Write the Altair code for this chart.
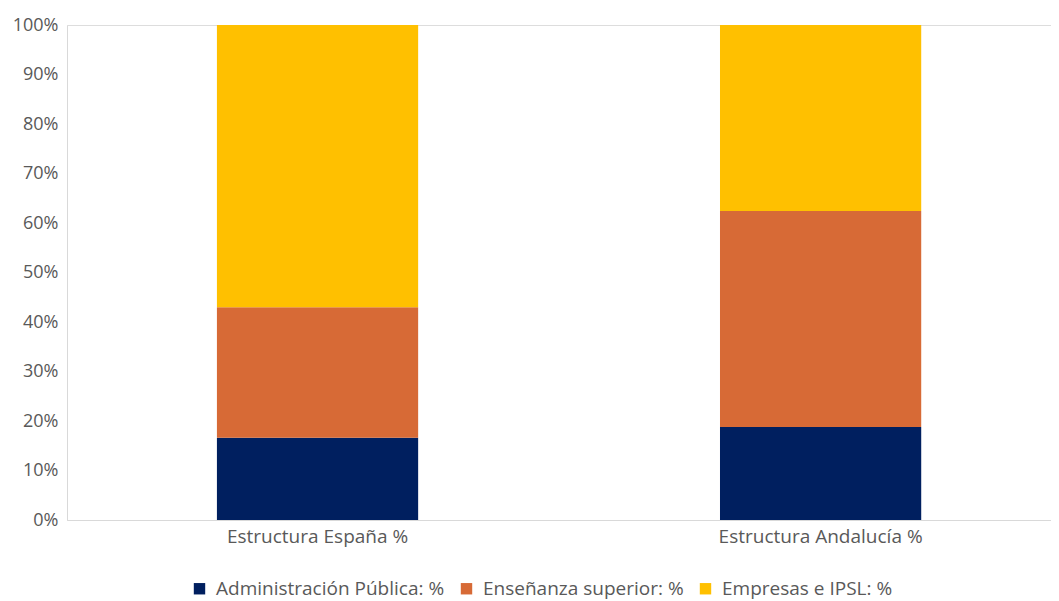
import altair as alt
import pandas as pd

categories = ["Estructura España %", "Estructura Andalucía  %"]
series = ["Administración Pública: %", "Enseñanza superior: %", "Empresas e IPSL: %"]
admin = [0.166, 0.188]
ensenanza = [0.264, 0.436]
empresas = [0.570, 0.376]
colors = ["#001F5F", "#D76A36", "#FFC000"]

rows = []
for i, c in enumerate(categories):
    for j, (s, vals) in enumerate(zip(series, [admin, ensenanza, empresas])):
        rows.append({"cat": c, "serie": s, "valor": vals[i], "orden": j})
df = pd.DataFrame(rows)

font = "Open Sans"
chart = alt.Chart(df).mark_bar().encode(
    x=alt.X("cat:N", sort=categories, title=None,
            scale=alt.Scale(paddingInner=0.6, paddingOuter=0.278, align=0.536),
            axis=alt.Axis(labelAngle=0, ticks=False, domainColor="#d9d9d9",
                          labelColor="#595959", labelFontSize=19, labelFont=font,
                          labelPadding=7, labelLimit=400)),
    y=alt.Y("sum(valor):Q", stack="zero", title=None,
            scale=alt.Scale(domain=[0, 1], nice=False),
            axis=alt.Axis(format=".0%", values=[i / 10 for i in range(11)], grid=False,
                          ticks=False, domainColor="#d9d9d9", labelColor="#595959",
                          labelFontSize=18, labelFont=font, labelPadding=9)),
    color=alt.Color("serie:N", sort=series,
                    scale=alt.Scale(domain=series, range=colors),
                    legend=alt.Legend(title=None, orient="none", legendX=123, legendY=554,
                                      direction="horizontal", symbolType="square",
                                      symbolSize=130, symbolStrokeWidth=0,
                                      labelFontSize=19, labelFont=font, labelColor="#595959",
                                      labelLimit=400, columnPadding=12, labelOffset=7)),
    order=alt.Order("orden:Q"),
).properties(
    width=984, height=495,
    autosize=alt.AutoSizeParams(type="none"),
    padding={"left": 59, "top": 17, "right": 0, "bottom": 80},
).configure_view(stroke=None).configure(background="white")

chart.save("out.html", embed_options={"renderer": "svg", "actions": False})
